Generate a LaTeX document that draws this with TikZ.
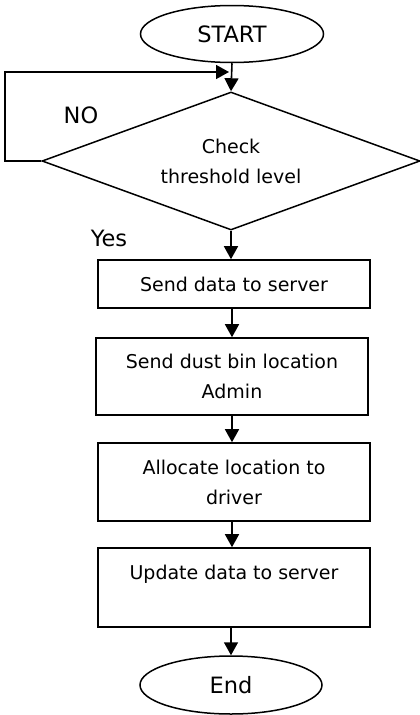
\documentclass[tikz,border=0pt]{standalone}
\usepackage{fontspec}
\setmainfont{DejaVu Sans}
\usetikzlibrary{shapes.geometric,arrows.meta}
\begin{document}
\begin{tikzpicture}[x=1pt,y=-1pt,
  every node/.style={font=\fontsize{19}{30}\selectfont},
  bigtext/.style={font=\fontsize{22.5}{30}\selectfont},
  term/.style={draw,ellipse,line width=1.5pt,minimum width=183pt,minimum height=57pt,inner sep=0pt,bigtext},
  decide/.style={draw,diamond,aspect=2.74,line width=1.5pt,minimum width=378pt,minimum height=138pt,inner sep=0pt,align=center},
  procbox/.style={draw,rectangle,line width=1.6pt,minimum width=272pt,inner sep=0pt,align=center},
  flow/.style={line width=1.6pt,-{Triangle[length=13pt,width=14pt]}},
  lbl/.style={inner sep=0pt,bigtext}
]
\useasboundingbox (0,0) rectangle (420,715);

\node[term] (start) at (232,34) {START};
\node[decide] (dec) at (231,161) {Check\\threshold level};
\node[procbox,minimum height=48pt] (b1) at (234,284) {Send data to server};
\node[procbox,minimum height=77pt] (b2) at (232,376.5) {Send dust bin location\\Admin};
\node[procbox,minimum height=78pt] (b3) at (234,482) {Allocate location to\\driver};
\node[procbox,minimum height=79pt] (b4) at (234,587.5) {Update data to server\\\mbox{}};
\node[term,minimum height=58pt,minimum width=182pt] (end) at (231,685) {End};

\node[lbl] (no) at (81,115) {NO};
\node[lbl] (yes) at (109,238) {Yes};

\coordinate (loopL) at (5,161);
\coordinate (loopT) at (5,72);
\coordinate (join) at (229,72);

\draw[flow] (start.south) -- (dec.north);
\draw[flow] (dec.west) -- (loopL) -- (loopT) -- (join);
\draw[flow] (dec.south) -- (dec.south |- b1.north);
\draw[flow] (b1.south -| 232,0) -- (b2.north -| 232,0);
\draw[flow] (b2.south -| 232,0) -- (b3.north -| 232,0);
\draw[flow] (b3.south -| 232,0) -- (b4.north -| 232,0);
\draw[flow] (b4.south -| 231,0) -- (end.north);
\end{tikzpicture}
\end{document}
